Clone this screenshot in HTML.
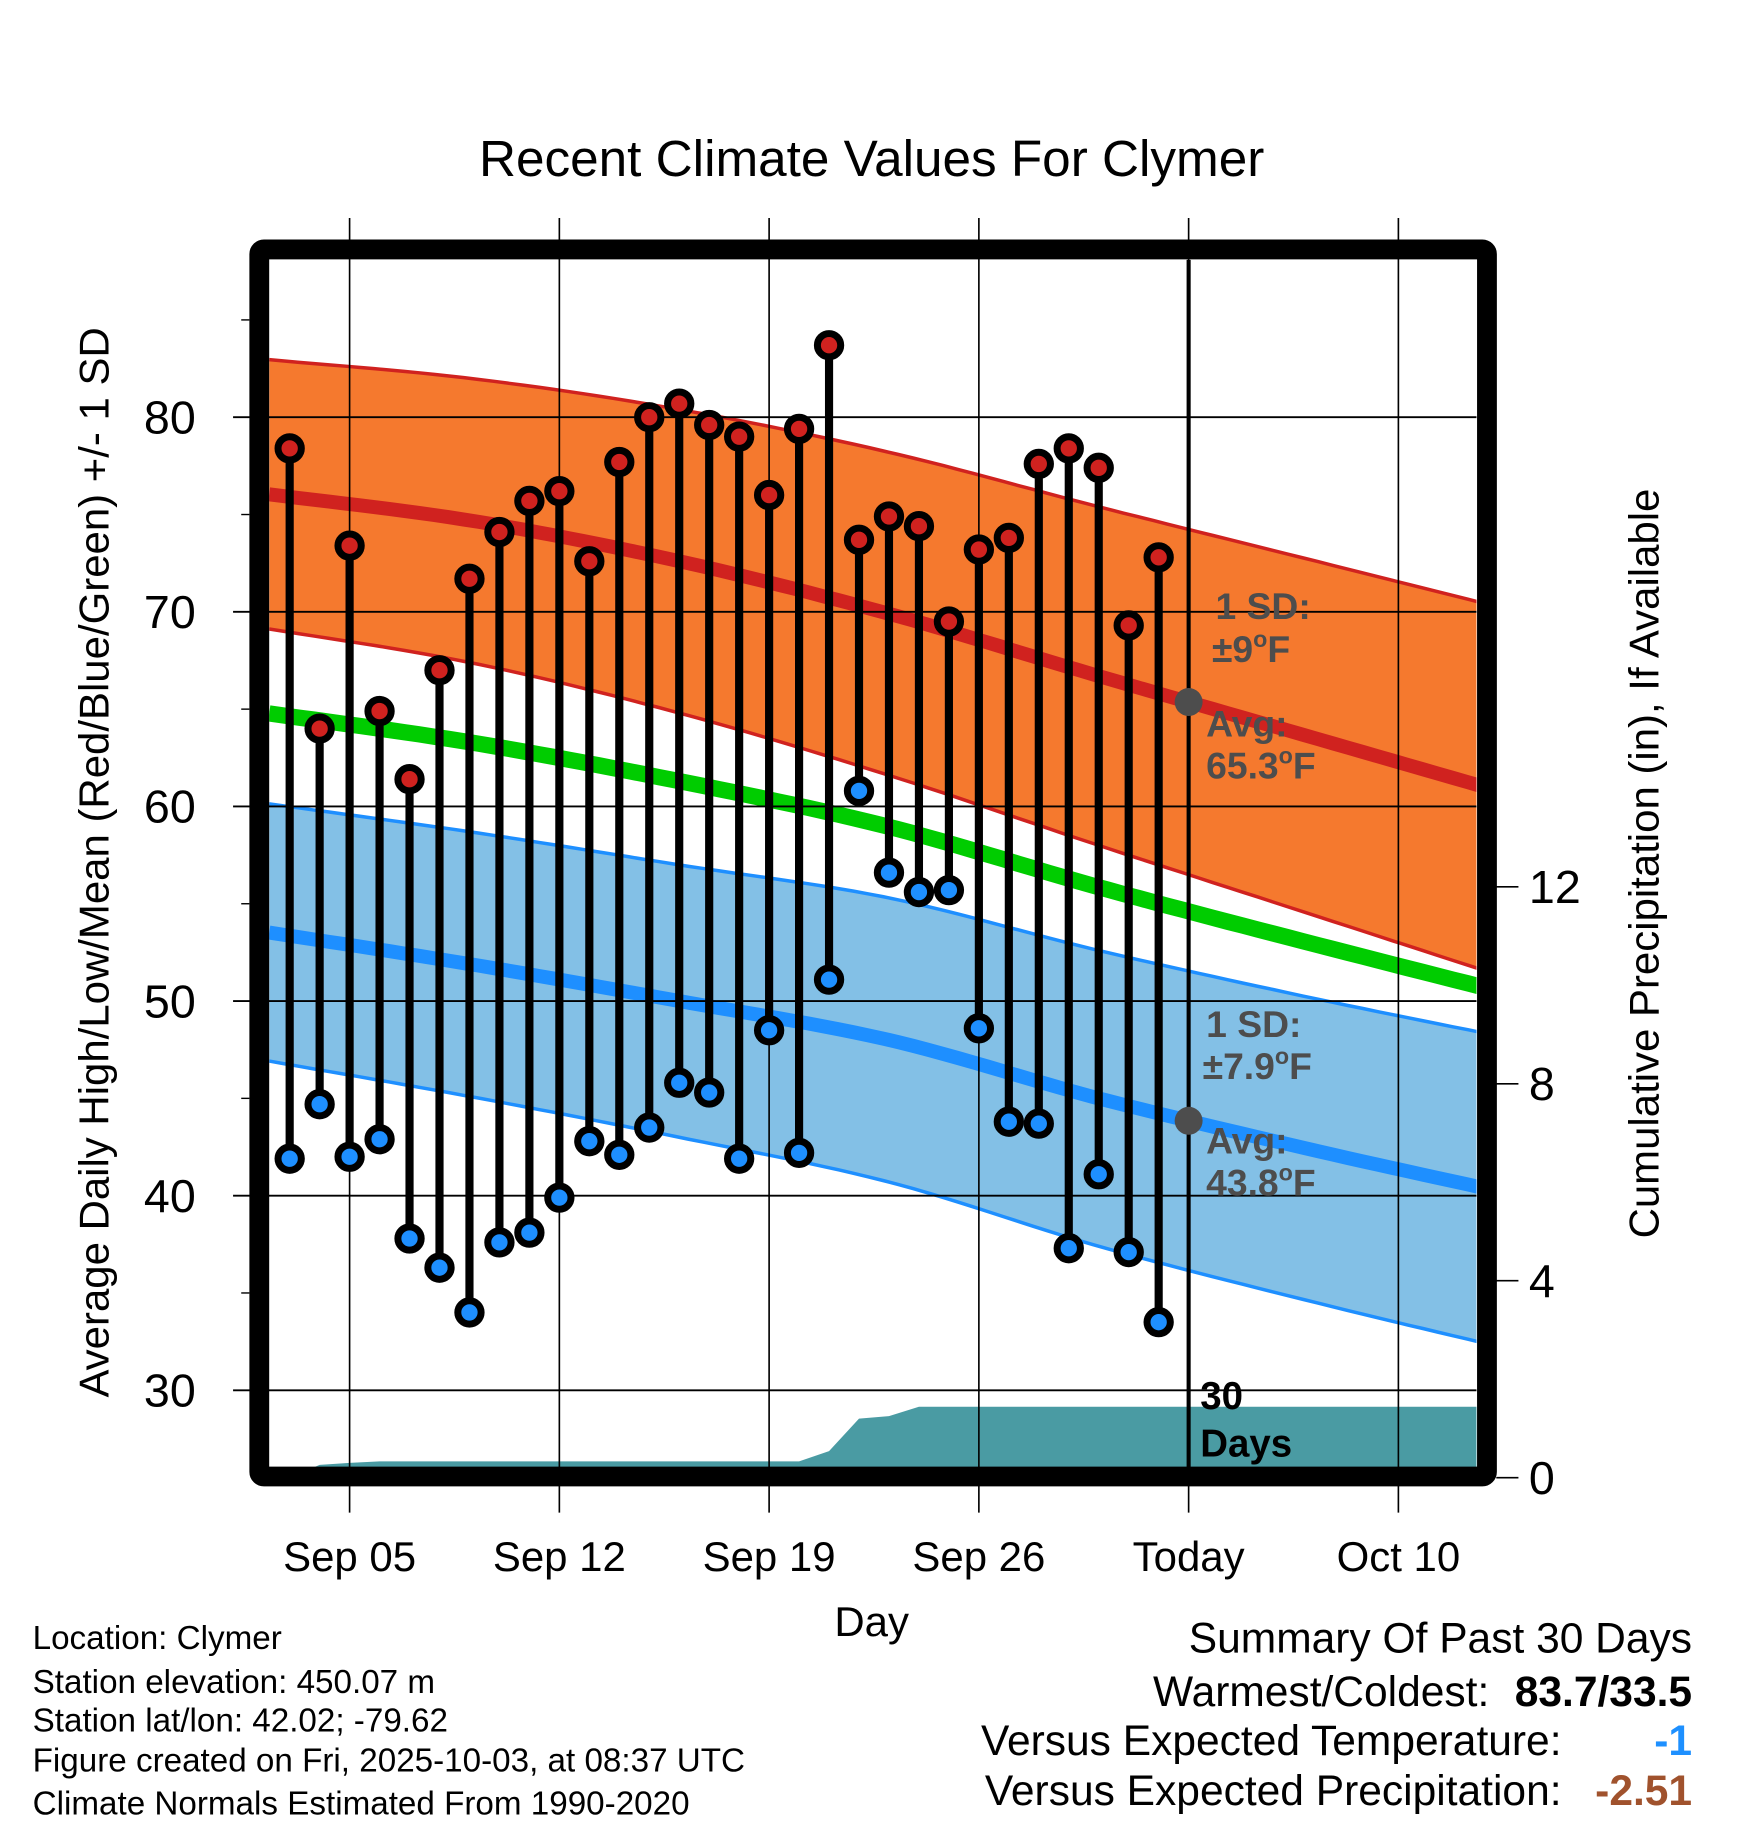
<!DOCTYPE html>
<html><head><meta charset="utf-8"><style>
html,body{margin:0;padding:0;background:#fff}
svg{display:block}
text{font-family:"Liberation Sans",Arial,sans-serif}
</style></head><body>
<svg id="chart" width="1748" height="1828" viewBox="0 0 1500 1568.6" xmlns="http://www.w3.org/2000/svg">
<text x="748" y="151" font-size="44" text-anchor="middle">Recent Climate Values For Clymer</text>
<g id="plot"></g>
<g font-size="28.5">
<text x="28" y="1415">Location: Clymer</text>
<text x="28" y="1453">Station elevation: 450.07 m</text>
<text x="28" y="1486">Station lat/lon: 42.02; -79.62</text>
<text x="28" y="1520">Figure created on Fri, 2025-10-03, at 08:37 UTC</text>
<text x="28" y="1557">Climate Normals Estimated From 1990-2020</text>
</g>
<g font-size="36.5">
<text x="1452" y="1418" text-anchor="end">Summary Of Past 30 Days</text>
<text x="1278" y="1464" text-anchor="end">Warmest/Coldest:</text>
<text x="1452" y="1464" text-anchor="end" font-weight="bold">83.7/33.5</text>
<text x="1340" y="1506" text-anchor="end">Versus Expected Temperature:</text>
<text x="1452" y="1506" text-anchor="end" font-weight="bold" fill="#1e90ff">-1</text>
<text x="1340" y="1549" text-anchor="end">Versus Expected Precipitation:</text>
<text x="1452" y="1549" text-anchor="end" font-weight="bold" fill="#a0522d">-2.51</text>
</g>
</svg>
<script>
// data
const obsDays = [3,4,5,6,7,8,9,10,11,12,13,14,15,16,17,18,19,20,21,22,23,24,25,26,27,28,29,30,31,32];
const highs = [78.4,64.0,73.4,64.9,61.4,67.0,71.7,74.1,75.7,76.2,72.6,77.7,80.0,80.7,79.6,79.0,76.0,79.4,83.7,73.7,74.9,74.4,69.5,73.2,73.8,77.6,78.4,77.4,69.3,72.8];
const lows = [41.9,44.7,42.0,42.9,37.8,36.3,34.0,37.6,38.1,39.9,42.8,42.1,43.5,45.8,45.3,41.9,48.5,42.2,51.1,60.8,56.6,55.6,55.7,48.6,43.8,43.7,37.3,41.1,37.1,33.5];
const precip = [0,0.26,0.30,0.33,0.33,0.33,0.33,0.33,0.33,0.33,0.33,0.33,0.33,0.33,0.33,0.33,0.33,0.33,0.54,1.2,1.25,1.44,1.44,1.44,1.44,1.44,1.44,1.44,1.44,1.44];
const normDays = [2,9,16,23,30,37,44];
const normHigh = [76.1,74.7,72.6,69.9,66.7,63.6,60.5];
const sdHigh = [6.9,7.3,7.8,8.3,8.7,9.1,9.5];
const normLow = [53.6,51.9,50.0,48.0,45.0,42.4,40.0];
const sdLow = [6.6,6.8,7.0,7.3,7.6,7.8,8.0];
const xTickDays = [5,12,19,26,33,40];
const xTickLabels = ["Sep 05","Sep 12","Sep 19","Sep 26","Today","Oct 10"];
const yTicks = [30,40,50,60,70,80];
const pTicks = [0,4,8,12];
const todayDay = 33;

const NS="http://www.w3.org/2000/svg";
const g=document.getElementById('plot');
const X=d=>300+(d-5)*25.714;
const Y=v=>358+(80-v)*16.7;
const P=p=>1268-p*42.25;
const L=231,R=1267,T=223,B=1260;
const dStart=(L-300)/25.714+5, dEnd=(R-300)/25.714+5;
function el(tag,attrs,parent){const e=document.createElementNS(NS,tag);for(const k in attrs)e.setAttribute(k,attrs[k]);(parent||g).appendChild(e);return e;}
function interp(arr,d){
  const n=normDays.length;let i=0;
  while(i<n-2&&d>normDays[i+1])i++;
  const t=(d-normDays[i])/(normDays[i+1]-normDays[i]);
  const p0=arr[Math.max(i-1,0)],p1=arr[i],p2=arr[i+1],p3=arr[Math.min(i+2,n-1)];
  const m1=(p2-p0)/(i>0?2:1),m2=(p3-p1)/(i+2<n?2:1);
  const t2=t*t,t3=t2*t;
  return (2*t3-3*t2+1)*p1+(t3-2*t2+t)*m1+(-2*t3+3*t2)*p2+(t3-t2)*m2;
}
const samp=[];for(let d=dStart;d<dEnd;d+=0.5)samp.push(d);samp.push(dEnd+0.3);
const lineStr=f=>samp.map(d=>X(d).toFixed(1)+','+Y(f(d)).toFixed(1)).join(' ');

const defs=el('defs',{});const cp=el('clipPath',{id:'clip'},defs);el('rect',{x:L,y:T,width:R-L,height:B-T},cp);
const inner=el('g',{'clip-path':'url(#clip)'});

function band(mean,sd,fill,stroke,name){
  const up=samp.map(d=>X(d)+','+Y(interp(mean,d)+interp(sd,d)));
  const lo=samp.slice().reverse().map(d=>X(d)+','+Y(interp(mean,d)-interp(sd,d)));
  const b=el('polygon',{points:up.concat(lo).join(' '),fill:fill},inner);
  
  
  const u=el('polyline',{points:lineStr(d=>interp(mean,d)+interp(sd,d)),fill:'none',stroke:stroke,'stroke-width':3},inner);
  
  
  const l=el('polyline',{points:lineStr(d=>interp(mean,d)-interp(sd,d)),fill:'none',stroke:stroke,'stroke-width':3},inner);
  
  
}
band(normLow,sdLow,'#83c0e6','#1e8fff','low');
band(normHigh,sdHigh,'#f5792e','#d0221f','high');
const mh=el('polyline',{points:lineStr(d=>interp(normHigh,d)),fill:'none',stroke:'#d0221f','stroke-width':12},inner);


const ml=el('polyline',{points:lineStr(d=>interp(normLow,d)),fill:'none',stroke:'#1e8fff','stroke-width':12},inner);


const mm=el('polyline',{points:lineStr(d=>(interp(normHigh,d)+interp(normLow,d))/2),fill:'none',stroke:'#00cc00','stroke-width':14},inner);



let pp=[X(obsDays[0])+','+B];
obsDays.forEach((d,i)=>pp.push(X(d)+','+P(precip[i])));
pp.push(R+','+P(precip[precip.length-1]));pp.push(R+','+B);
const pa=el('polygon',{points:pp.join(' '),fill:'#4a9ba3'},inner);



yTicks.forEach(v=>{const l=el('line',{x1:200,x2:R,y1:Y(v),y2:Y(v),stroke:'#000','stroke-width':1.6});
  const t=el('text',{x:168,y:Y(v)+14,'font-size':40,'text-anchor':'end'});t.textContent=v;});
for(let v=35;v<=85;v+=10){const l=el('line',{x1:207,x2:214,y1:Y(v),y2:Y(v),stroke:'#000','stroke-width':1.2});}
xTickDays.forEach((d,i)=>{const l=el('line',{x1:X(d),x2:X(d),y1:187,y2:1298,stroke:'#000','stroke-width':1.4});
  const t=el('text',{x:X(d),y:1348,'font-size':36,'text-anchor':'middle'});t.textContent=xTickLabels[i];});
pTicks.forEach(p=>{const l=el('line',{x1:1284,x2:1303,y1:P(p),y2:P(p),stroke:'#000','stroke-width':1.4});
  const t=el('text',{x:1312,y:P(p)+14,'font-size':40});t.textContent=p;});

const tl=el('line',{x1:X(todayDay),x2:X(todayDay),y1:T,y2:B,stroke:'#000','stroke-width':3.5});



obsDays.forEach((d,i)=>{
  const s=el('line',{x1:X(d),x2:X(d),y1:Y(highs[i]),y2:Y(lows[i]),stroke:'#000','stroke-width':7});
  
  
  const h=el('circle',{cx:X(d),cy:Y(highs[i]),r:10,fill:'#d0221f',stroke:'#000','stroke-width':6});
  
  
  const lo=el('circle',{cx:X(d),cy:Y(lows[i]),r:10,fill:'#1e8fff',stroke:'#000','stroke-width':6});
  
  
});
[interp(normHigh,todayDay),interp(normLow,todayDay)].forEach(v=>{const c=el('circle',{cx:X(todayDay),cy:Y(v),r:12,fill:'#4d4d4d'});});

function txt(x,y,s,size,fill,name){const t=el('text',{x:x,y:y,'font-size':size,'font-weight':'bold',fill:fill});t.innerHTML=s;}
const sup='<tspan dy="-13" font-size="20">o</tspan><tspan dy="13">F</tspan>';
txt(1043,531,'1 SD:',32,'#4d4d4d','high-sd-label');
txt(1040,568,'±9'+sup,32,'#4d4d4d','high-sd-value');
txt(1035,632,'Avg:',32,'#4d4d4d','high-avg-label');
txt(1035,668,'65.3'+sup,32,'#4d4d4d','high-avg-value');
txt(1035,890,'1 SD:',32,'#4d4d4d','low-sd-label');
txt(1032,926,'±7.9'+sup,32,'#4d4d4d','low-sd-value');
txt(1035,990,'Avg:',32,'#4d4d4d','low-avg-label');
txt(1035,1026,'43.8'+sup,32,'#4d4d4d','low-avg-value');
txt(1030,1209,'30',33,'#000','precip-days-label');
txt(1030,1250,'Days',33,'#000','precip-days-label-2');

const fr=el('rect',{x:222.5,y:214,width:1053.5,height:1053,fill:'none',stroke:'#000','stroke-width':17,rx:4});



const yt=el('text',{x:0,y:0,'font-size':36,'text-anchor':'middle',transform:'translate(93,740) rotate(-90)'});
yt.textContent='Average Daily High/Low/Mean (Red/Blue/Green) +/- 1 SD';


const rt=el('text',{x:0,y:0,'font-size':36,'text-anchor':'middle',transform:'translate(1423,741) rotate(-90)'});
rt.textContent='Cumulative Precipitation (in), If Available';


const xt=el('text',{x:748,y:1404,'font-size':36,'text-anchor':'middle'});
xt.textContent='Day';


</script>
</body></html>
